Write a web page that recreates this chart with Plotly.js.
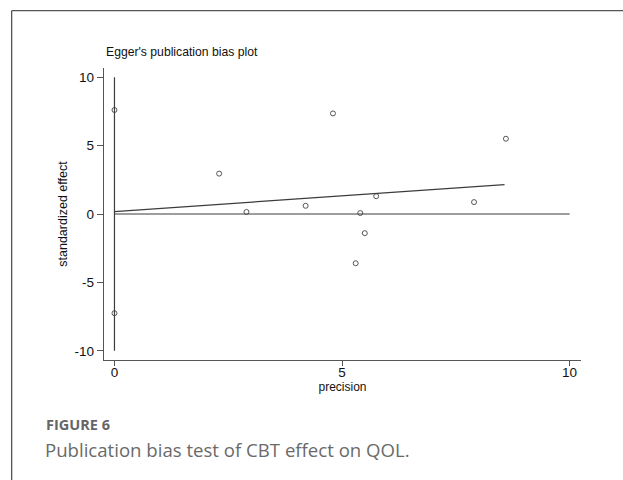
<!DOCTYPE html>
<html>
<head>
<meta charset="utf-8">
<script src="https://cdn.plot.ly/plotly-3.0.1.min.js"></script>
<style>
  html, body { margin: 0; padding: 0; background: #fff; }
  #chart { width: 623px; height: 480px; }
</style>
</head>
<body>
<div id="chart"></div>
<script>
// Study points
const precision = [0, 0, 2.3, 2.9, 4.2, 4.8, 5.3, 5.4, 5.5, 5.75, 7.9, 8.6];
const standardizedEffect = [7.6, -7.25, 2.95, 0.15, 0.6, 7.35, -3.6, 0.07, -1.4, 1.3, 0.87, 5.5];
// Egger regression line (intercept, slope) and its x extent
const eggerIntercept = [0.18];
const eggerSlope = [0.229];
const eggerX = [0, 8.57];
// Reference lines
const vertLineX = [0, 0];
const vertLineY = [-10, 10];
const zeroLineX = [0, 10];
const zeroLineY = [0, 0];
// Ticks
const xTicks = [0, 5, 10];
const yTicks = [-10, -5, 0, 5, 10];

const W = 623, H = 480;
const mL = 104.3, mR = 42, mT = 68.3, mB = 120;
const pw = W - mL - mR, ph = H - mT - mB;
const px = v => (v - mL) / pw;
const py = v => (H - mB - v) / ph;

const lineCol = '#3c3c3c';
const traces = [
  { x: vertLineX, y: vertLineY, mode: 'lines', line: { color: lineCol, width: 1.2 }, hoverinfo: 'skip' },
  { x: zeroLineX, y: zeroLineY, mode: 'lines', line: { color: lineCol, width: 1.2 }, hoverinfo: 'skip' },
  { x: eggerX, y: eggerX.map(v => eggerIntercept[0] + eggerSlope[0] * v), mode: 'lines',
    line: { color: lineCol, width: 1.2 }, hoverinfo: 'skip' },
  { x: precision, y: standardizedEffect, mode: 'markers',
    marker: { symbol: 'circle-open', size: 5, color: '#444', line: { width: 0.9, color: '#444' } } }
];

const fam = 'Liberation Sans, Arial, sans-serif';
const layout = {
  width: W, height: H,
  margin: { l: mL, r: mR, t: mT, b: mB, pad: 0 },
  paper_bgcolor: '#fff', plot_bgcolor: '#fff',
  showlegend: false,
  font: { family: fam, color: '#111', size: 12 },
  xaxis: {
    range: [-0.23, 10.25], tickvals: xTicks, ticktext: xTicks.map(String),
    showgrid: false, zeroline: false, showline: true, linecolor: '#555', linewidth: 1.2,
    ticks: 'outside', ticklen: 5, tickcolor: '#555', tickwidth: 1,
    ticklabelstandoff: -5,
    tickfont: { family: fam, size: 13.5, color: '#111' },
    title: { text: 'precision', standoff: 1, font: { family: fam, size: 12, color: '#111' } }
  },
  yaxis: {
    range: [-10.67, 10.67], tickvals: yTicks, ticktext: yTicks.map(String),
    showgrid: false, zeroline: false, showline: true, linecolor: '#555', linewidth: 1.2,
    ticks: 'outside', ticklen: 6, tickcolor: '#555', tickwidth: 1,
    tickfont: { family: fam, size: 13.5, color: '#111' },
    title: { text: 'standardized effect', standoff: 4, font: { family: fam, size: 12.5, color: '#111' } }
  },
  annotations: [
    { text: "Egger's publication bias plot", xref: 'paper', yref: 'paper',
      x: 0, y: py(52), xanchor: 'left', yanchor: 'middle', showarrow: false,
      font: { family: fam, size: 12.2, color: '#111' } },
    { text: '<b>FIGURE 6</b>', xref: 'paper', yref: 'paper',
      x: px(44), y: py(424), xanchor: 'left', yanchor: 'middle', showarrow: false,
      font: { family: 'Open Sans, Lato, sans-serif', size: 14.5, color: '#666' } },
    { text: 'Publication bias test of CBT effect on QOL.', xref: 'paper', yref: 'paper',
      x: px(43), y: py(449), xanchor: 'left', yanchor: 'middle', showarrow: false,
      font: { family: 'Open Sans, Lato, sans-serif', size: 18.6, color: '#6a6a6a' } }
  ],
  shapes: [
    { type: 'line', xref: 'paper', yref: 'paper', x0: px(12), x1: px(623), y0: py(11), y1: py(11),
      line: { color: '#555', width: 1.3 } },
    { type: 'line', xref: 'paper', yref: 'paper', x0: px(12), x1: px(12), y0: py(11), y1: py(480),
      line: { color: '#555', width: 1.3 } }
  ]
};

Plotly.newPlot('chart', traces, layout, { staticPlot: true, displayModeBar: false });
</script>
</body>
</html>
